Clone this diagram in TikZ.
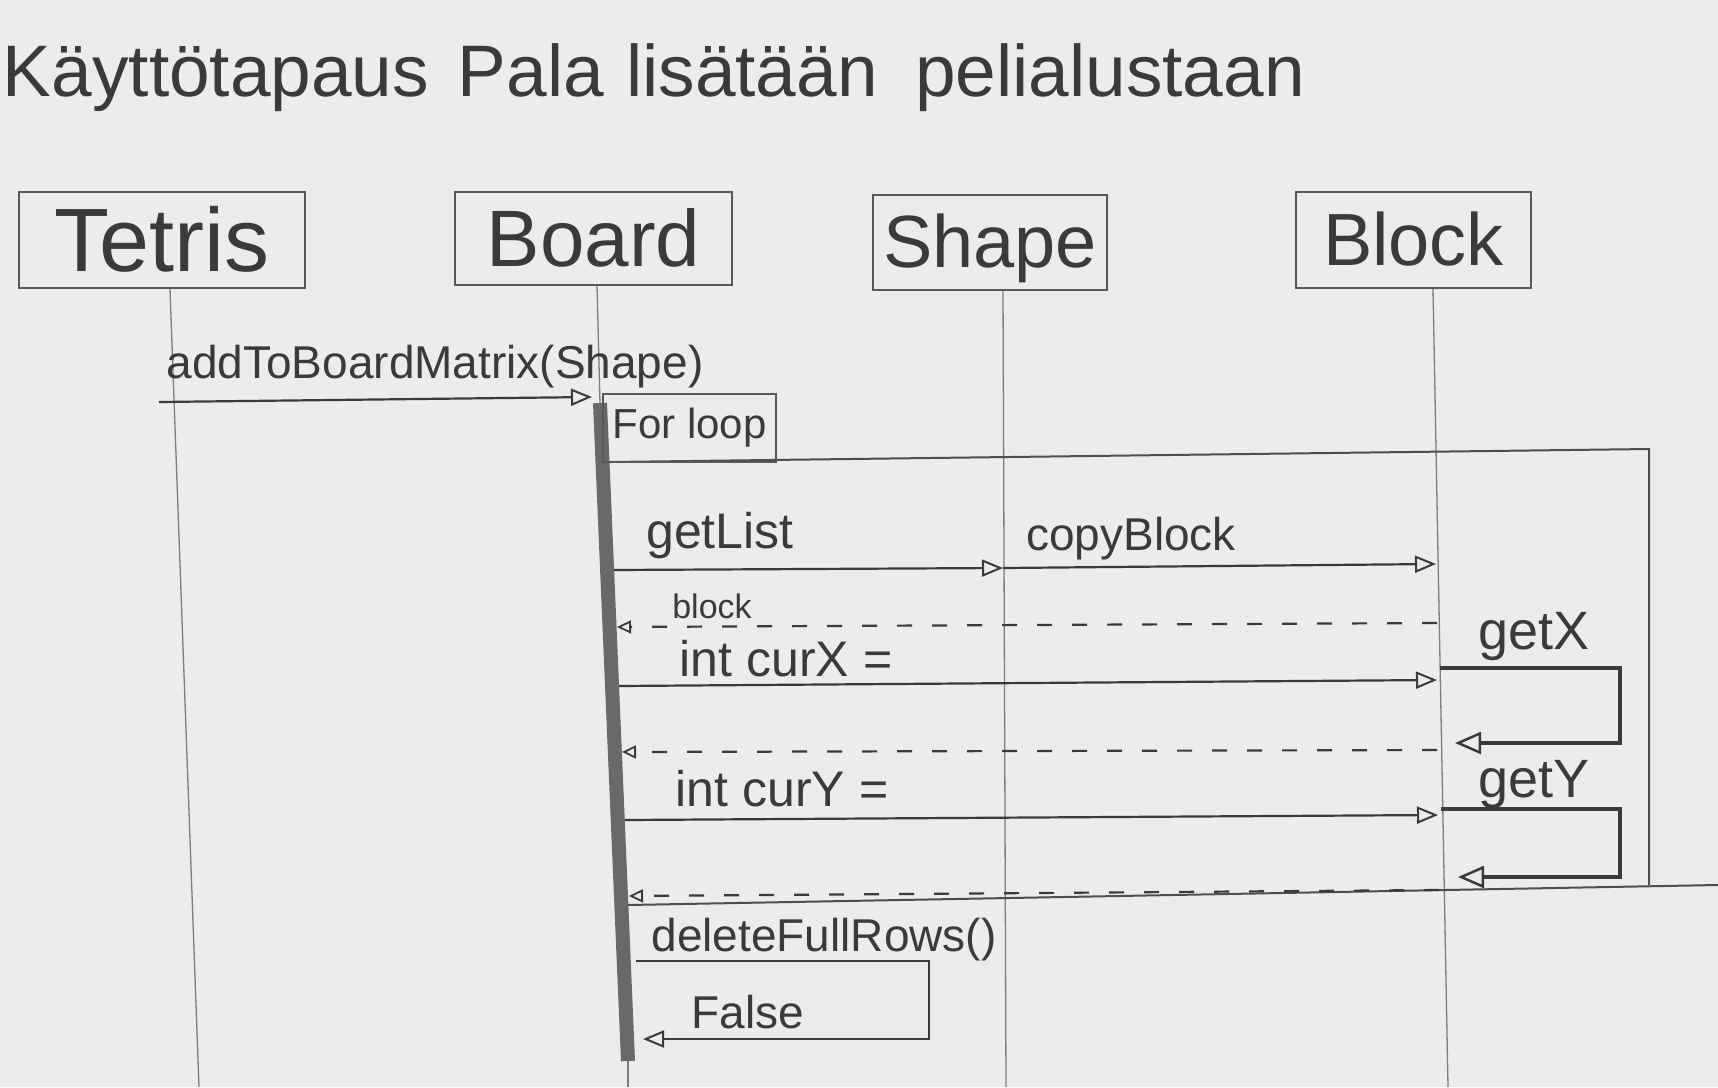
\documentclass[tikz,border=0pt]{standalone}
\usepackage{fontspec}
\setmainfont{Liberation Sans}
\usetikzlibrary{arrows.meta}
\definecolor{paper}{RGB}{236,236,236}
\definecolor{pencil}{RGB}{58,58,58}
\definecolor{lightpencil}{RGB}{125,125,125}
\definecolor{barfill}{RGB}{105,105,105}
\newcommand{\myfs}[1]{\fontsize{#1}{#1}\selectfont}
\begin{document}
\begin{tikzpicture}[x=1pt,y=-1pt,
  objbox/.style={draw=pencil!85, line width=2pt, inner sep=0pt},
  life/.style={draw=lightpencil, line width=1.3pt},
  msg/.style={draw=pencil, line width=2.2pt, -{Triangle[open,length=21pt,width=17pt,line width=2pt]}},
  ret/.style={draw=pencil, line width=2.2pt, dash pattern=on 15pt off 20pt, -{Triangle[open,length=14pt,width=13pt,line width=1.8pt]}},
  selfmsg/.style={draw=pencil, line width=3.5pt, -{Triangle[open,length=26pt,width=22pt,line width=2.5pt]}},
  lbl/.style={text=pencil, anchor=base, inner sep=0pt, font=\myfs{46}},
  frame/.style={draw=pencil!90, line width=2pt}]
\useasboundingbox (0,0) rectangle (1718,1087);
\fill[paper] (0,0) rectangle (1718,1087);

% title
\node[lbl, font=\myfs{73}] (t1) at (216,96) {Käyttötapaus};
\node[lbl, font=\myfs{73}] (t2) at (531,96) {Pala};
\node[lbl, font=\myfs{73}] (t3) at (752,96) {lisätään};
\node[lbl, font=\myfs{73}] (t4) at (1110,96) {pelialustaan};

% objects
\node[objbox, minimum width=286pt, minimum height=96pt] (tetris) at (162,240) {};
\node[objbox, minimum width=277pt, minimum height=93pt] (board) at (593.5,238.5) {};
\node[objbox, minimum width=234pt, minimum height=95pt] (shape) at (990,242.5) {};
\node[objbox, minimum width=235pt, minimum height=96pt] (block) at (1413.5,240) {};
\node[lbl, font=\myfs{90}] (tetrisT) at (tetris.center) [yshift=-31pt] {Tetris};
\node[lbl, font=\myfs{80}] (boardT) at (board.center) [yshift=-28pt] {Board};
\node[lbl, font=\myfs{74}] (shapeT) at (shape.center) [yshift=-25pt] {Shape};
\node[lbl, font=\myfs{74}] (blockT) at (block.center) [yshift=-25pt] {Block};

% lifelines
\coordinate (tetrisEnd) at (199,1087);
\coordinate (bartop) at (600,403);
\coordinate (barbot) at (628,1061);
\coordinate (boardEnd) at (628,1087);
\coordinate (shapeEnd) at (1006,1087);
\coordinate (blockEnd) at (1448,1087);
\draw[life] ([xshift=8pt]tetris.south) -- (tetrisEnd);
\draw[life] ([xshift=3.5pt]board.south) -- (bartop);
\draw[life] (barbot) -- (boardEnd);
\draw[life] ([xshift=13pt]shape.south) -- (shapeEnd);
\draw[life] ([xshift=19.5pt]block.south) -- (blockEnd);

% loop frame
\coordinate (fTL) at (610,462);
\coordinate (fTR) at (1649,449);
\coordinate (fBR) at (1649,885);
\coordinate (fBL) at (628,905);
\coordinate (fBX) at (1718,885);
\draw[frame] (fTL) -- (fTR) -- (fBR);
\draw[frame] (fBL) -- (fBX);

% activation bar
\draw[line width=14pt, draw=barfill] (bartop) -- (barbot);

% for loop tag
\node[draw=pencil!85, line width=2pt, minimum width=173pt, minimum height=68pt, inner sep=0pt, font=\myfs{42}, text=pencil] (tag) at (689.5,428) {For loop};

% addToBoardMatrix
\coordinate (m1s) at (159,402);
\coordinate (m1e) at (592,397);
\draw[msg] (m1s) -- (m1e);
\node[lbl] (l1) at (435,378) {addToBoardMatrix(Shape)};

% getList
\coordinate (m2s) at (614,570);
\coordinate (m2e) at (1003,568);
\draw[msg] (m2s) -- (m2e);
\node[lbl, font=\myfs{50}] (l2) at (720,548) {getList};

% copyBlock
\coordinate (m3e) at (1436,564);
\draw[msg] (m2e) -- (m3e);
\node[lbl] (l3) at (1131,550) {copyBlock};

% block return
\coordinate (m4s) at (1437,623);
\coordinate (m4e) at (617,627);
\draw[ret] (m4s) -- (m4e);
\node[lbl, font=\myfs{34}] (l4) at (712,618) {block};

% int curX
\coordinate (m5s) at (619,686);
\coordinate (m5e) at (1437,680);
\draw[msg] (m5s) -- (m5e);
\node[lbl, font=\myfs{50}] (l5) at (786,676) {int curX =};

% getX self call
\coordinate (gxA) at (1440,668);
\coordinate (gxB) at (1620,743);
\coordinate (gxC) at (1455,743);
\draw[selfmsg] (gxA) -| (gxB) -- (gxC);
\node[lbl, font=\myfs{54}] (lgx) at (1534,649) {getX};

% return curX
\coordinate (m6s) at (1437,750);
\coordinate (m6e) at (622,752);
\draw[ret] (m6s) -- (m6e);

% int curY
\coordinate (m7s) at (625,820);
\coordinate (m7e) at (1438,815);
\draw[msg] (m7s) -- (m7e);
\node[lbl, font=\myfs{50}] (l7) at (782,806) {int curY =};

% getY self call
\coordinate (gyA) at (1441,809);
\coordinate (gyB) at (1620,877);
\coordinate (gyC) at (1458,877);
\draw[selfmsg] (gyA) -| (gyB) -- (gyC);
\node[lbl, font=\myfs{54}] (lgy) at (1534,797) {getY};

% return curY
\coordinate (m8s) at (1439,890);
\coordinate (m8e) at (629,896);
\draw[ret] (m8s) -- (m8e);

% deleteFullRows self call
\coordinate (dA) at (636,961);
\coordinate (dB) at (929,1039);
\coordinate (dC) at (643,1039);
\draw[msg, line width=2.6pt] (dA) -| (dB) -- (dC);
\node[lbl] (l9) at (824,951) {deleteFullRows()};
\node[lbl] (l10) at (748,1028) {False};
\end{tikzpicture}
\end{document}
